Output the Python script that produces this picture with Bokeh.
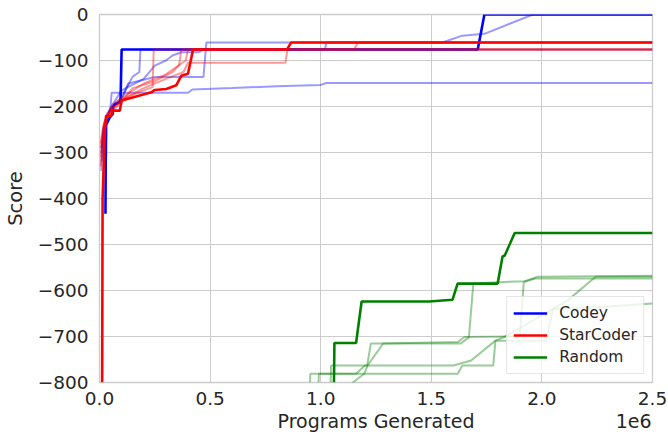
from bokeh.plotting import figure
from bokeh.models import (Legend, LegendItem, CustomJSTickFormatter, FixedTicker, Range1d,
                          LinearAxis)
from bokeh.embed import file_html
from bokeh.resources import INLINE

# ---------------- data (x in units of 1e6 programs) ----------------
x_ticks = [0.0, 0.5, 1.0, 1.5, 2.0, 2.5]
y_ticks = [-800, -700, -600, -500, -400, -300, -200, -100, 0]
legend_labels = ["Codey", "StarCoder", "Random"]
x_title = "Programs Generated"
x_offset_text = "1e6"

codey_best_x = [0.027, 0.028, 0.030, 0.045, 0.060, 0.062, 0.070, 0.095, 0.100, 1.710, 1.740, 2.500]
codey_best_y = [-433, -330, -240, -225, -216, -200, -195, -190, -76, -76, 0, 0]

codey_run1_x = [0.008, 0.015, 0.030, 0.050, 0.055, 0.200, 0.400, 0.420, 0.600, 0.800, 1.000, 1.025, 2.500]
codey_run1_y = [-340, -250, -235, -200, -170, -170, -170, -163, -160, -156, -153, -149, -149]
codey_run2_x = [0.008, 0.020, 0.035, 0.060, 0.100, 0.130, 0.250, 0.470, 0.483, 1.550, 1.640, 1.740, 1.960, 2.500]
codey_run2_y = [-300, -240, -215, -200, -185, -150, -136, -136, -61, -61, -46, -42, 0, 0]
codey_run3_x = [0.010, 0.020, 0.050, 0.100, 0.150, 0.180, 0.185, 1.020, 1.025, 2.500]
codey_run3_y = [-320, -245, -205, -180, -135, -125, -76, -76, -61, -61]
codey_run4_x = [0.010, 0.030, 0.060, 0.100, 0.200, 0.250, 0.300, 0.330, 0.370, 0.450, 0.470, 2.500]
codey_run4_y = [-290, -225, -195, -165, -140, -111, -100, -89, -82, -82, -76, -76]

starcoder_best_x = [0.012, 0.014, 0.024, 0.030, 0.054, 0.056, 0.092, 0.100, 0.235, 0.250, 0.302,
                    0.347, 0.370, 0.400, 0.423, 0.848, 0.866, 2.500]
starcoder_best_y = [-800, -400, -252, -220, -220, -209, -209, -187, -169, -164, -162,
                    -154, -133, -129, -76, -76, -61, -61]

starcoder_run1_x = [0.005, 0.015, 0.030, 0.060, 0.100, 0.150, 0.200, 0.240, 0.245, 2.500]
starcoder_run1_y = [-330, -280, -225, -205, -185, -175, -165, -158, -76, -76]
starcoder_run2_x = [0.005, 0.015, 0.040, 0.080, 0.120, 0.200, 0.300, 0.380, 0.400, 0.840, 0.850, 2.500]
starcoder_run2_y = [-310, -260, -215, -200, -180, -160, -140, -125, -105, -105, -76, -76]
starcoder_run3_x = [0.005, 0.020, 0.050, 0.100, 0.150, 0.250, 0.330, 0.360, 0.370, 2.500]
starcoder_run3_y = [-290, -240, -205, -190, -160, -145, -125, -110, -76, -76]
starcoder_run4_x = [0.005, 0.020, 0.060, 0.120, 0.200, 0.300, 0.390, 0.400, 1.150, 1.170, 2.500]
starcoder_run4_y = [-280, -235, -195, -175, -150, -130, -100, -76, -76, -61, -61]

random_best_x = [1.060, 1.062, 1.160, 1.185, 1.490, 1.596, 1.619, 1.800, 1.822, 1.832, 1.877, 2.500]
random_best_y = [-800, -714, -714, -624, -624, -620, -585, -585, -526, -524, -475, -475]

random_run1_x = [0.952, 0.953, 1.620, 1.640, 1.780, 1.790, 2.020, 2.050, 2.300, 2.500]
random_run1_y = [-800, -781, -781, -763, -763, -709, -709, -640, -635, -628]
random_run2_x = [1.045, 1.047, 1.210, 1.227, 1.633, 1.670, 1.690, 1.800, 1.920, 1.970, 2.500]
random_run2_y = [-800, -763, -763, -715, -715, -702, -585, -582, -580, -574, -574]
random_run3_x = [0.990, 0.992, 1.160, 1.200, 1.600, 1.680, 1.790, 1.830, 2.115, 2.243, 2.500]
random_run3_y = [-800, -781, -781, -763, -763, -752, -709, -701, -622, -570, -570]
random_run4_x = [1.140, 1.145, 1.197, 1.212, 1.283, 1.620, 1.650, 1.900, 1.918, 1.980, 2.500]
random_run4_y = [-810, -800, -781, -763, -715, -712, -701, -700, -582, -570, -568]

# ---------------- figure ----------------
FONT = "DejaVu Sans"
TXT = "#262626"
GRID = "#cccccc"

p = figure(width=668, height=435, output_backend="svg", toolbar_location=None,
           x_range=Range1d(0, 2.5), y_range=Range1d(-800, 0),
           min_border_left=98, min_border_right=16, min_border_top=14, min_border_bottom=53,
           background_fill_color="white", border_fill_color="white")

p.outline_line_color = GRID
p.outline_line_width = 1.3
p.grid.grid_line_color = GRID
p.grid.grid_line_width = 1

p.xaxis.ticker = FixedTicker(ticks=x_ticks)
p.yaxis.ticker = FixedTicker(ticks=y_ticks)
p.xaxis.formatter = CustomJSTickFormatter(code="return tick.toFixed(1);")
p.yaxis.formatter = CustomJSTickFormatter(
    code="return tick < 0 ? '\\u2212' + Math.abs(tick) : String(tick);")

# second row below the tick labels: axis title (centre) and offset text "1e6" (right)
title_pos = 1.25
offset_pos = 2.415
title_axis = LinearAxis(
    ticker=FixedTicker(ticks=[title_pos, offset_pos]),
    formatter=CustomJSTickFormatter(
        args=dict(t=x_title, o=x_offset_text), code="return tick < 2 ? t : o;"))
p.add_layout(title_axis, "below")

for ax in (p.xaxis[0], p.yaxis[0], title_axis):
    ax.axis_line_color = None
    ax.major_tick_line_color = None
    ax.minor_tick_line_color = None
    ax.major_tick_out = 0
    ax.major_tick_in = 0
    ax.major_label_text_font = FONT
    ax.major_label_text_font_size = "18.5px"
    ax.major_label_text_color = TXT
    ax.axis_label_text_font = FONT
    ax.axis_label_text_font_size = "19.5px"
    ax.axis_label_text_font_style = "normal"
    ax.axis_label_text_color = TXT

title_axis.major_label_text_font_size = "19px"
title_axis.major_label_standoff = 2
p.xaxis[0].major_label_standoff = 9
p.yaxis.axis_label = "Score"
p.yaxis.major_label_standoff = 11
p.yaxis.axis_label_standoff = 8

BLUE, RED, GREEN = "#0000ff", "#ff0000", "#008000"
FA = 0.4
FW = 2.0
BW = 2.6

for xs, ys in [(codey_run1_x, codey_run1_y), (codey_run2_x, codey_run2_y),
               (codey_run3_x, codey_run3_y), (codey_run4_x, codey_run4_y)]:
    p.line(xs, ys, line_color=BLUE, line_alpha=FA, line_width=FW)
r_codey = p.line(codey_best_x, codey_best_y, line_color=BLUE, line_width=BW)

for xs, ys in [(starcoder_run1_x, starcoder_run1_y), (starcoder_run2_x, starcoder_run2_y),
               (starcoder_run3_x, starcoder_run3_y), (starcoder_run4_x, starcoder_run4_y)]:
    p.line(xs, ys, line_color=RED, line_alpha=FA, line_width=FW)
r_star = p.line(starcoder_best_x, starcoder_best_y, line_color=RED, line_width=BW)

for xs, ys in [(random_run1_x, random_run1_y), (random_run2_x, random_run2_y),
               (random_run3_x, random_run3_y), (random_run4_x, random_run4_y)]:
    p.line(xs, ys, line_color=GREEN, line_alpha=FA, line_width=FW)
r_rand = p.line(random_best_x, random_best_y, line_color=GREEN, line_width=BW)

legend = Legend(items=[LegendItem(label=legend_labels[0], renderers=[r_codey]),
                       LegendItem(label=legend_labels[1], renderers=[r_star]),
                       LegendItem(label=legend_labels[2], renderers=[r_rand])],
                location="bottom_right", margin=8, padding=6, spacing=2,
                glyph_width=34, glyph_height=20, label_height=20, label_standoff=12,
                label_text_font=FONT, label_text_font_size="15.5px", label_text_color=TXT,
                border_line_color=GRID, border_line_width=1,
                background_fill_color="white", background_fill_alpha=0.8)
p.add_layout(legend)

open("out.html", "w").write(file_html(p, INLINE))
